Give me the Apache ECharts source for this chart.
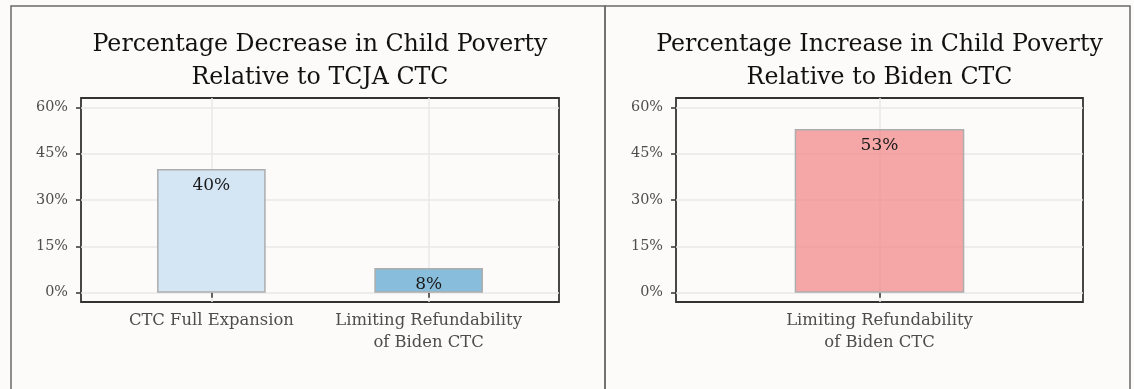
<!DOCTYPE html>
<html><head><meta charset="utf-8">
<script src="https://cdn.jsdelivr.net/npm/echarts@6/dist/echarts.min.js"></script>
<style>html,body{margin:0;padding:0;background:#FDFBFA}#c{width:1134px;height:389px}</style>
</head><body><div id="c"></div>
<script>
// ---- data ----
const leftTitle = 'Percentage Decrease in Child Poverty\nRelative to TCJA CTC';
const rightTitle = 'Percentage Increase in Child Poverty\nRelative to Biden CTC';
const leftCategories = ['CTC Full Expansion', 'Limiting Refundability\nof Biden CTC'];
const leftValues = [40, 8];
const rightCategories = ['Limiting Refundability\nof Biden CTC'];
const rightValues = [53];
const yTicks = [0, 15, 30, 45, 60];

// ---- styles ----
const leftColors = ['#D4E5F4', '#89BDDC'];
const rightColors = ['rgba(242,138,138,0.75)'];
const FONT = 'DejaVu Serif';
const yMin = -3, yMax = 63;
const grids = [
  {left: 81, top: 98, width: 478, height: 204},
  {left: 676, top: 98, width: 407, height: 204}
];
const panels = [
  {cats: leftCategories, vals: leftValues, colors: leftColors, title: leftTitle},
  {cats: rightCategories, vals: rightValues, colors: rightColors, title: rightTitle}
];

const chart = echarts.init(document.getElementById('c'), null, {renderer: 'canvas'});

const xAxes = [], yAxes = [], series = [], graphics = [];
panels.forEach((p, gi) => {
  const g = grids[gi];
  const n = p.cats.length;
  const pos = p.cats.map((_, i) => i + 1);
  xAxes.push({
    type: 'value', gridIndex: gi, min: 0.4, max: n + 0.6,
    axisLine: {show: false},
    axisTick: {show: true, customValues: pos, length: 5, lineStyle: {color: '#333', width: 1.5}},
    axisLabel: {customValues: pos, formatter: v => p.cats[Math.round(v) - 1] || '',
      fontFamily: FONT, fontSize: 16.4, lineHeight: 21.5, color: '#4D4D4D', margin: 8},
    splitLine: {show: true, lineStyle: {color: '#E8E8E8', width: 1.5}}
  });
  yAxes.push({
    type: 'value', gridIndex: gi, min: yMin, max: yMax,
    axisLine: {show: false},
    axisTick: {show: true, customValues: yTicks, length: 5, lineStyle: {color: '#333', width: 1.5}},
    axisLabel: {customValues: yTicks, formatter: v => v + '%',
      fontFamily: FONT, fontSize: 14.4, color: '#4D4D4D', margin: 13},
    splitLine: {show: true, lineStyle: {color: '#E8E8E8', width: 1.5}}
  });
  series.push({
    type: 'bar', xAxisIndex: gi, yAxisIndex: gi,
    barWidth: 0.5 * g.width / (n + 0.2),
    data: p.vals.map((v, i) => ({value: [i + 1, v], itemStyle: {color: p.colors[i]}})),
    itemStyle: {borderColor: '#ADADAD', borderWidth: 1.5},
    label: {show: true, position: 'insideTop', distance: 8,
      formatter: q => q.value[1] + '%',
      fontFamily: FONT, fontSize: 17, color: '#1a1a1a'},
    emphasis: {disabled: true}, silent: true
  });
  graphics.push({
    type: 'text', x: g.left + g.width / 2, y: 28, silent: true,
    style: {text: p.title, fontFamily: FONT, fontSize: 23.7, lineHeight: 33.5,
      align: 'center', verticalAlign: 'top', fill: '#111111'}
  });
});

graphics.push({type: 'rect', silent: true, shape: {x: 11, y: 6, width: 594, height: 420},
  style: {fill: 'none', stroke: '#6A6A6A', lineWidth: 1.5}});
graphics.push({type: 'rect', silent: true, shape: {x: 605, y: 6, width: 525, height: 420},
  style: {fill: 'none', stroke: '#6A6A6A', lineWidth: 1.5}});

chart.setOption({
  backgroundColor: '#FDFBFA',
  animation: false,
  grid: grids.map(g => Object.assign({show: true, borderColor: '#333', borderWidth: 1.8,
    backgroundColor: 'transparent', containLabel: false}, g)),
  xAxis: xAxes,
  yAxis: yAxes,
  series: series,
  graphic: graphics
});
</script></body></html>
